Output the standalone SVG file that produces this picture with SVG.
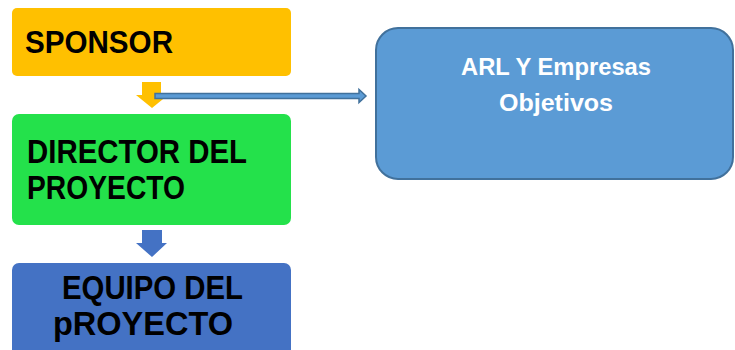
<svg xmlns="http://www.w3.org/2000/svg" width="735" height="350" viewBox="0 0 735 350">
<style>
.t{font-family:"Liberation Sans",Arial,sans-serif;font-weight:bold;fill:#000}
.w{font-family:"Liberation Sans",Arial,sans-serif;font-weight:bold;fill:#fff;text-anchor:middle}
</style>
<rect width="735" height="350" fill="#fff"/>
<g id="sponsor">
<rect x="12" y="8" width="279" height="68" rx="5" fill="#FFC000"/>
<text class="t" x="25" y="53" font-size="32" textLength="148" lengthAdjust="spacingAndGlyphs">SPONSOR</text>
</g>
<g id="director">
<rect x="12" y="114" width="279" height="111" rx="7" fill="#24E14B"/>
<text class="t" x="27" y="163" font-size="33" textLength="220" lengthAdjust="spacingAndGlyphs">DIRECTOR DEL</text>
<text class="t" x="27" y="199" font-size="33" textLength="158" lengthAdjust="spacingAndGlyphs">PROYECTO</text>
</g>
<g id="equipo">
<rect x="12" y="263" width="279" height="100" rx="7" fill="#4472C4"/>
<text class="t" x="62" y="299" font-size="33" textLength="181" lengthAdjust="spacingAndGlyphs">EQUIPO DEL</text>
<text class="t" x="53" y="335" font-size="33" textLength="180" lengthAdjust="spacingAndGlyphs">pROYECTO</text>
</g>
<g id="arl">
<rect x="376" y="28" width="357" height="151" rx="22" fill="#5B9BD5" stroke="#41719C" stroke-width="2"/>
<text class="w" x="556" y="75" font-size="23.5" textLength="190" lengthAdjust="spacingAndGlyphs">ARL Y Empresas</text>
<text class="w" x="556" y="111" font-size="23.5" textLength="114" lengthAdjust="spacingAndGlyphs">Objetivos</text>
</g>
<g id="connectors">
<polygon points="142,82 161,82 161,95 168,95 152,108 136,95 142,95" fill="#FFC000"/>
<polygon points="142,230 162,230 162,243 167,243 152,257 136,243 142,243" fill="#4472C4"/>
<polygon points="155,93.5 359,93.5 359,89.5 366,96 359,102.5 359,98.5 155,98.5" fill="#5B9BD5" stroke="#41719C" stroke-width="1.5" stroke-linejoin="miter"/>
</g>
</svg>
